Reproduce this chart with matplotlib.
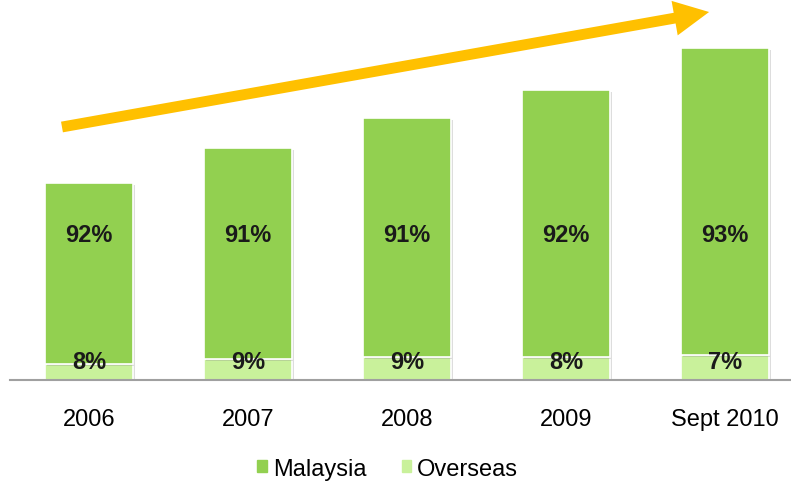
import matplotlib.pyplot as plt
import matplotlib.patheffects as pe
from matplotlib.patches import Patch
import numpy as np

years = ['2006', '2007', '2008', '2009', 'Sept 2010']
malaysia = [181, 211, 239, 267, 307]
overseas = [16, 21, 23, 23, 25]
malaysia_pct = ['92%', '91%', '91%', '92%', '93%']
overseas_pct = ['8%', '9%', '9%', '8%', '7%']

plt.rcParams['font.family'] = ['Liberation Sans', 'DejaVu Sans']

green = '#92D050'
light = '#C9F19B'

fig = plt.figure(figsize=(7.91, 4.85), dpi=100)
ax = fig.add_axes([10/791, 104/485, 781/791, 381/485])

x = np.arange(len(years))
shadow = [pe.SimplePatchShadow(offset=(1.5, -1.5), shadow_rgbFace='#909090', alpha=0.3), pe.Normal()]

ax.bar(x, overseas, width=0.555, color=light, edgecolor='white', linewidth=1.2,
       path_effects=shadow)
ax.bar(x, malaysia, bottom=overseas, width=0.555, color=green, edgecolor='white',
       linewidth=1.2, path_effects=shadow)

# percentage labels sit at fixed heights
for i in range(len(years)):
    ax.text(x[i], 146, malaysia_pct[i], ha='center', va='center', fontsize=17,
            fontweight='bold', color='#1a1a1a')
    ax.text(x[i], 18, overseas_pct[i], ha='center', va='center', fontsize=17,
            fontweight='bold', color='#1a1a1a')

# growth arrow
ax.annotate('', xy=(3.90, 368), xytext=(-0.17, 253),
            arrowprops=dict(arrowstyle='simple,head_length=2.1,head_width=2.1,tail_width=0.65',
                            color='#FFC000', lw=0, shrinkA=0, shrinkB=0, mutation_scale=12))

ax.set_xlim(-79/159, 702/159)
ax.set_ylim(0, 381)
for s in ['top', 'right', 'left']:
    ax.spines[s].set_visible(False)
ax.spines['bottom'].set_color('#A0A0A0')
ax.spines['bottom'].set_linewidth(1.5)
ax.set_yticks([])
ax.set_xticks(x)
ax.set_xticklabels(years, fontsize=17)
ax.tick_params(axis='x', length=0, pad=20)

handles = [Patch(color=green), Patch(color=light)]
fig.legend(handles=handles, labels=['Malaysia', 'Overseas'], loc='lower center',
           bbox_to_anchor=(0.49, -0.035), ncol=2, frameon=False, fontsize=17,
           handlelength=0.4, handleheight=0.4, handletextpad=0.25, columnspacing=1.5)

fig.savefig('out.png', dpi=100)
